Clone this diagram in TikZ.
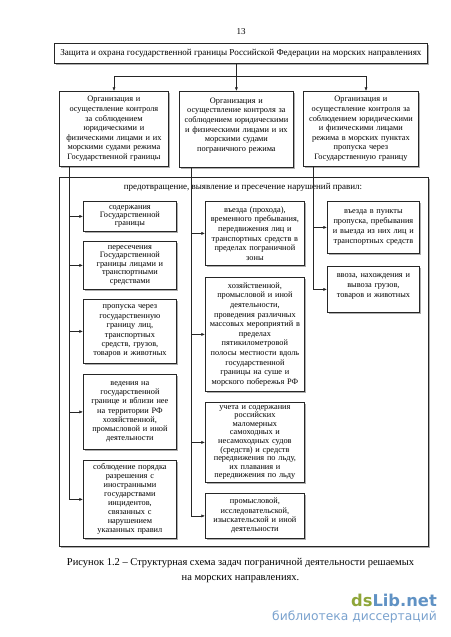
\documentclass[tikz,border=0pt]{standalone}
\usepackage{fontspec}
\setmainfont{Liberation Serif}
\newfontfamily\wmfont{DejaVu Sans}
\usetikzlibrary{arrows.meta,shadows,calc}
\definecolor{dsgreen}{RGB}{143,166,58}
\definecolor{dsblue}{RGB}{96,146,196}
\definecolor{dslight}{RGB}{122,162,206}
\tikzset{
  box/.style={draw=black!85, line width=0.8pt, fill=white, inner sep=0pt,
    anchor=north west, align=center,
    drop shadow={shadow xshift=1.1pt, shadow yshift=-1.1pt, fill=black!45, opacity=0.7}},
  sz/.style n args={3}{minimum width=#1pt, minimum height=#2pt, text width=#3pt},
  bs/.style={font=\fontsize{8.3}{#1}\selectfont},
  conn/.style={line width=0.55pt, draw=black!85},
  arr/.style={conn, -{Latex[length=3.6pt,width=3pt]}},
}
\begin{document}
\begin{tikzpicture}[x=1pt,y=-1pt]
\useasboundingbox (0,0) rectangle (450,637);

\node[font=\fontsize{9}{10}\selectfont] (pg) at (241,32) {13};

\node[box, minimum width=373pt, minimum height=20pt, font=\fontsize{9.1}{10}\selectfont] (T0) at (54,43)
  {Защита и охрана государственной границы Российской Федерации на морских направлениях};

\node[box, sz={109}{75}{108}, bs=9.6] (T1) at (59,91)
  {Организация и\\осуществление контроля\\за соблюдением\\юридическими и\\физическими лицами и их\\морскими судами режима\\Государственной границы};
\node[box, sz={114}{76}{113}, bs=9.6] (T2) at (179,91)
  {Организация и\\осуществление контроля за\\соблюдением юридическими\\и физическими лицами и их\\морскими судами\\пограничного режима\\\mbox{}};
\node[box, sz={115}{75}{114}, bs=9.6] (T3) at (303,91)
  {Организация и\\осуществление контроля за\\соблюдением юридическими\\и физическими лицами\\режима в морских пунктах\\пропуска через\\Государственную границу};

\node[box, sz={369}{369}{368}] (C) at (59,177) {};
\node[font=\fontsize{9}{10}\selectfont] (H) at (243,187)
  {предотвращение, выявление и пресечение нарушений правил:};

% left column
\node[box, sz={93}{30}{92}, bs=8.2] (L1) at (83,201)
  {содержания\\Государственной\\границы};
\node[box, sz={93}{48}{92}, bs=8.5] (L2) at (83,241)
  {пересечения\\Государственной\\границы лицами и\\транспортными\\средствами};
\node[box, sz={93}{64}{92}, bs=9.4] (L3) at (83,299)
  {пропуска через\\государственную\\границу лиц,\\транспортных\\средств, грузов,\\товаров и животных};
\node[box, sz={93}{75}{92}, bs=9.3] (L4) at (83,374)
  {ведения на\\государственной\\границе и вблизи нее\\на территории РФ\\хозяйственной,\\промысловой и иной\\деятельности};
\node[box, sz={93}{78}{92}, bs=9.0] (L5) at (83,460)
  {соблюдение порядка\\разрешения с\\иностранными\\государствами\\инцидентов,\\связанных с\\нарушением\\указанных правил};

% middle column
\node[box, sz={99}{64}{98}, bs=9.6] (M1) at (205,201)
  {въезда (прохода),\\временного пребывания,\\передвижения лиц и\\транспортных средств в\\пределах пограничной\\зоны};
\node[box, sz={99}{114}{98}, bs=9.6] (M2) at (205,277)
  {хозяйственной,\\промысловой и иной\\деятельности,\\проведения различных\\массовых мероприятий в\\пределах\\пятикилометровой\\полосы местности вдоль\\государственной\\границы на суше и\\морского побережья РФ};
\node[box, sz={99}{80}{98}, bs=8.6] (M3) at (205,402)
  {учета и содержания\\российских\\маломерных\\самоходных и\\несамоходных судов\\(средств) и средств\\передвижения по льду,\\их плавания и\\передвижения по льду};
\node[box, sz={99}{45}{98}, bs=9.3] (M4) at (205,493)
  {промысловой,\\исследовательской,\\изыскательской и иной\\деятельности};

% right column
\node[box, sz={92}{52}{91}, bs=9.8] (R1) at (327,201)
  {въезда в пункты\\пропуска, пребывания\\и выезда из них лиц и\\транспортных средств};
\node[box, sz={92}{46}{91}, bs=10.2] (R2) at (327,266)
  {ввоза, нахождения и\\вывоза грузов,\\товаров и животных\\[-2pt]\mbox{}};

% top connectors
\coordinate (jL) at (114,76);
\coordinate (jR) at (366,76);
\draw[arr] (T0.south -| T2.north) -- (T2.north);
\draw[conn] (jL) -- (jR);
\draw[arr] (jL) -- (jL |- T1.north);
\draw[arr] (jR) -- (jR |- T3.north);

% vertical distribution lines
\coordinate (s1) at ($(T1.south west)+(10,0)$);
\coordinate (s2) at ($(T2.south west)+(12.5,0)$);
\coordinate (s3) at ($(T3.south west)+(10,0)$);
\draw[arr] (s1) |- (L5.west);
\foreach \n in {L1,L2,L3,L4} \draw[arr] (s1 |- \n.west) -- (\n.west);
\draw[arr] (s2) |- (M4.west);
\foreach \n in {M1,M2,M3} \draw[arr] (s2 |- \n.west) -- (\n.west);
\draw[arr] (s3) |- (R2.west);
\draw[arr] (s3 |- R1.west) -- (R1.west);

% caption
\node[align=center, font=\fontsize{10.5}{15}\selectfont] (cap) at (240.5,570.5)
  {Рисунок 1.2 – Структурная схема задач пограничной деятельности решаемых\\на морских направлениях.};

% watermark
\node[anchor=east, inner sep=0pt, font=\wmfont\bfseries\fontsize{16.3}{18}\selectfont] (wm1) at (437,600)
  {\textcolor{dsgreen}{ds}\textcolor{dsblue}{Lib.net}};
\node[anchor=east, inner sep=0pt, text=dslight, font=\wmfont\fontsize{12.3}{14}\selectfont] (wm2) at (437,617)
  {библиотека диссертаций};
\end{tikzpicture}
\end{document}
